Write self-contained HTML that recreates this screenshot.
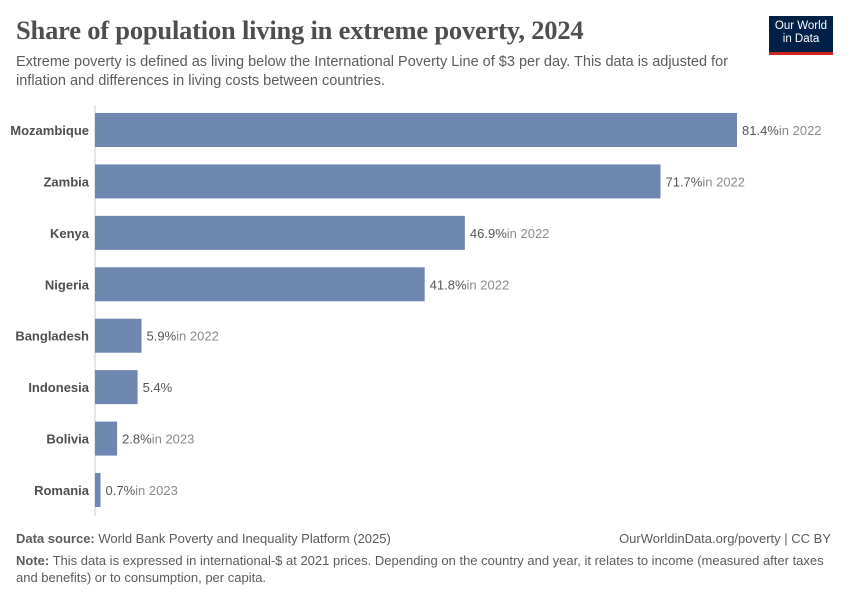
<!DOCTYPE html>
<html><head><meta charset="utf-8"><style>
body{margin:0;background:#fff;font-family:"Liberation Sans",sans-serif;}
#wrap{position:relative;width:850px;height:600px;overflow:hidden;}
.t{position:absolute;white-space:nowrap;}
</style></head><body>
<div id="wrap">
<div class="t" style="left:16px;top:15px;font-family:'Liberation Serif',serif;font-size:26.5px;font-weight:bold;color:#4e4e4e;letter-spacing:-0.2px;">Share of population living in extreme poverty, 2024</div>
<div class="t" style="left:16px;top:53px;font-size:14.5px;line-height:19px;color:#5b5b5b;white-space:normal;width:750px;">Extreme poverty is defined as living below the International Poverty Line of $3 per day. This data is adjusted for inflation and differences in living costs between countries.</div>
<div style="position:absolute;left:769px;top:16px;width:64px;background:#002147;border-bottom:3px solid #ce261e;color:#fff;font-size:11.5px;line-height:13px;text-align:center;padding-top:4px;height:32px;">Our World<br>in Data</div>
<svg id="chart" width="850" height="600" style="position:absolute;left:0;top:0;"></svg>
<div class="t" style="left:16px;top:531px;font-size:13px;color:#5b5b5b;"><b>Data source:</b> World Bank Poverty and Inequality Platform (2025)</div>
<div class="t" style="right:19px;top:531px;font-size:13px;color:#5b5b5b;">OurWorldinData.org/poverty | CC BY</div>
<div class="t" style="left:16px;top:552px;font-size:13px;line-height:17px;color:#5b5b5b;white-space:normal;width:810px;"><b>Note:</b> This data is expressed in international-$ at 2021 prices. Depending on the country and year, it relates to income (measured after taxes and benefits) or to consumption, per capita.</div>
</div>
<script>
const countries=["Mozambique","Zambia","Kenya","Nigeria","Bangladesh","Indonesia","Bolivia","Romania"];
const values=[81.4,71.7,46.9,41.8,5.9,5.4,2.8,0.7];
const years=["in 2022","in 2022","in 2022","in 2022","in 2022","","in 2023","in 2023"];
const svg=document.getElementById('chart');
const NS='http://www.w3.org/2000/svg';
const x0=95,pxPer=(737-95)/81.4;
const xs=v=>x0+v*pxPer;
const y0=130,step=51.43,bh=34;
const ys=i=>y0+i*step;
function mk(tag,attrs){const e=document.createElementNS(NS,tag);for(const k in attrs)e.setAttribute(k,attrs[k]);svg.appendChild(e);return e;}
const ax=mk('line',{x1:x0,x2:x0,y1:105,y2:516,stroke:'#ccc','stroke-width':1});


countries.forEach((c,i)=>{
  const cy=ys(i);
  const r=mk('rect',{x:x0,y:cy-bh/2,width:xs(values[i])-x0,height:bh,fill:'#6d87b0'});
  
  
  const l=mk('text',{x:89,y:cy+5,'text-anchor':'end','font-size':13,'font-weight':'bold',fill:'#4e4e4e','font-family':'Liberation Sans, sans-serif'});
  l.textContent=c;
  
  
  const v=mk('text',{x:xs(values[i])+5,y:cy+5,'font-size':13,fill:'#555','font-family':'Liberation Sans, sans-serif'});
  
  
  const s1=document.createElementNS(NS,'tspan');s1.textContent=values[i].toFixed(1)+'%';v.appendChild(s1);
  const s2=document.createElementNS(NS,'tspan');s2.setAttribute('fill','#8a8a8a');s2.textContent=years[i];v.appendChild(s2);
});
</script>
</body></html>
